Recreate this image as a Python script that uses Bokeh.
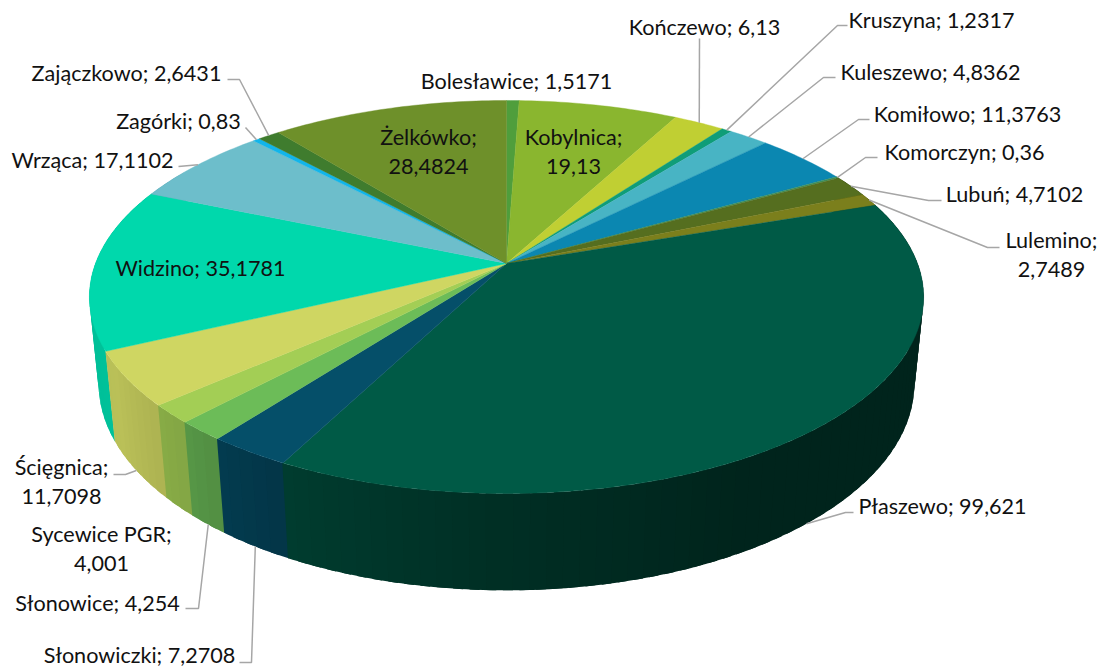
import numpy as np
from bokeh.plotting import figure
from bokeh.models import Range1d
from bokeh.core.properties import value
from bokeh.embed import file_html
from bokeh.resources import INLINE

categories = ["Bolesławice", "Kobylnica", "Kończewo", "Kruszyna", "Kuleszewo", "Komiłowo",
              "Komorczyn", "Lubuń", "Lulemino", "Płaszewo", "Słonowiczki", "Słonowice",
              "Sycewice PGR", "Ścięgnica", "Widzino", "Wrząca", "Zagórki", "Zajączkowo", "Żelkówko"]
values = [1.5171, 19.13, 6.13, 1.2317, 4.8362, 11.3763, 0.36, 4.7102, 2.7489, 99.621,
          7.2708, 4.254, 4.001, 11.7098, 35.1781, 17.1102, 0.83, 2.6431, 28.4824]
value_labels = ["1,5171", "19,13", "6,13", "1,2317", "4,8362", "11,3763", "0,36", "4,7102", "2,7489",
                "99,621", "7,2708", "4,254", "4,001", "11,7098", "35,1781", "17,1102", "0,83",
                "2,6431", "28,4824"]
colors = ["#4f9e3c", "#8ab62f", "#c0cf33", "#0f9d78", "#48b4c4", "#0b87b1", "#3f8f5a", "#556e1f",
          "#7b7f1c", "#005a46", "#054f69", "#6cbc58", "#a3ce55", "#cfd662", "#00d8ac", "#6dbecb",
          "#12b5ea", "#3f7c2e", "#6e902a"]

# label layout: centre of text, line break, leader elbows
label_pos = {
    "Bolesławice": (516, 80, False), "Kobylnica": (573, 151, True), "Kończewo": (704, 26, False),
    "Kruszyna": (931, 19, False), "Kuleszewo": (930, 71, False), "Komiłowo": (967, 113, False),
    "Komorczyn": (964, 151, False), "Lubuń": (1014, 193, False), "Lulemino": (1051, 254, True),
    "Płaszewo": (942, 505, False), "Słonowiczki": (139, 654, False), "Słonowice": (97, 602, False),
    "Sycewice PGR": (101, 548, True), "Ścięgnica": (61, 481, True), "Widzino": (200, 267, False),
    "Wrząca": (92, 159, False), "Zagórki": (178, 120, False), "Zajączkowo": (126, 72, False),
    "Żelkówko": (428, 151, True),
}
leaders = {
    "Kończewo": [(699, 38)],
    "Kruszyna": [(837, 25), (847, 25)],
    "Kuleszewo": [(823, 77), (835, 77)],
    "Komiłowo": [(858, 119), (869, 119)],
    "Komorczyn": [(865, 157), (877, 157)],
    "Lubuń": [(928, 200), (941, 200)],
    "Lulemino": [(987, 247), (999, 247)],
    "Płaszewo": [(845, 512), (853, 512)],
    "Słonowiczki": [(251, 662), (239, 662)],
    "Słonowice": [(198, 608), (185, 608)],
    "Ścięgnica": [(125, 474), (113, 474)],
    "Wrząca": [(178, 166)],
    "Zagórki": [(245, 127)],
    "Zajączkowo": [(239, 79), (227, 79)],
}

# perspective model of the disc
CX, CY, A, B, K, C, M = 506.0, 263.0, 411.0, 190.8, 0.1705, 87.5, 0.022


def project(t_deg, z=0.0):
    t = np.radians(np.asarray(t_deg, dtype=float))
    u, v = np.sin(t), -np.cos(t)
    d = 1 - K * v + M * z
    return CX + A * u / d, CY + (B * v + C * z) / d


def shade(hex_color, f):
    r, g, b = (int(hex_color[i:i + 2], 16) for i in (1, 3, 5))
    return "#%02x%02x%02x" % (int(r * f), int(g * f), int(b * f))


def wall_factor(t):
    return float(np.interp(t, [70, 150, 180, 207, 222, 240, 290], [0.40, 0.40, 0.52, 0.68, 0.80, 0.90, 0.86]))


total = sum(values)
edges = np.concatenate([[0], np.cumsum(values)]) / total * 360.0

p = figure(width=1105, height=668, x_range=Range1d(0, 1105), y_range=Range1d(668, 0),
           x_axis_location=None, y_axis_location=None, toolbar_location=None,
           output_backend="svg", min_border=0, outline_line_color=None)
p.grid.visible = False

# side wall strips, back to front; neighbours overlap so no seams show
strips = []
for i, col in enumerate(colors):
    a0, a1 = edges[i], edges[i + 1]
    n = max(1, int(np.ceil((a1 - a0) / 2.0)))
    ts = np.linspace(a0, a1, n + 1)
    for t0, t1 in zip(ts[:-1], ts[1:]):
        mid = (t0 + t1) / 2
        if not (60 < mid < 300):
            continue
        e0, e1 = max(a0 - 0.1, t0 - 0.6), min(a1 + 0.1, t1 + 0.6)
        arc = np.linspace(e0, e1, 5)
        xt, yt = project(arc, 0)
        xb, yb = project(arc[::-1], 1)
        strips.append((-np.cos(np.radians(mid)), list(xt) + list(xb), list(yt) + list(yb),
                       shade(col, wall_factor(mid))))
strips.sort(key=lambda s: s[0])
p.patches([s[1] for s in strips], [s[2] for s in strips], fill_color=[s[3] for s in strips],
          line_color=None)

# top face
xs, ys = [], []
for i in range(len(values)):
    n = max(2, int(np.ceil((edges[i + 1] - edges[i]) / 1.0)))
    ts = np.linspace(edges[i], edges[i + 1], n + 1)
    x, y = project(ts)
    xs.append([CX] + list(x))
    ys.append([CY] + list(y))
p.patches(xs, ys, fill_color=colors, line_color=colors, line_width=0.4)

# leader lines
front = {"Płaszewo", "Słonowiczki", "Słonowice", "Ścięgnica"}
for i, name in enumerate(categories):
    if name in leaders:
        mid = (edges[i] + edges[i + 1]) / 2
        x0, y0 = project(mid, 1 if name in front else 0)
        pts = [(float(x0), float(y0))] + leaders[name]
        p.line([q[0] for q in pts], [q[1] for q in pts], line_color="#a6a6a6", line_width=1.5)

# labels
lx, ly, lt = [], [], []
for name, val in zip(categories, value_labels):
    x, y, wrap = label_pos[name]
    lx.append(x)
    ly.append(y)
    lt.append(f"{name};\n{val}" if wrap else f"{name}; {val}")
p.text(lx, ly, text=lt, text_font=value("Lato"), text_font_size="21.6px", text_color="#111111",
       text_align="center", text_baseline="middle", text_line_height=1.14)

open("out.html", "w").write(file_html(p, INLINE))
